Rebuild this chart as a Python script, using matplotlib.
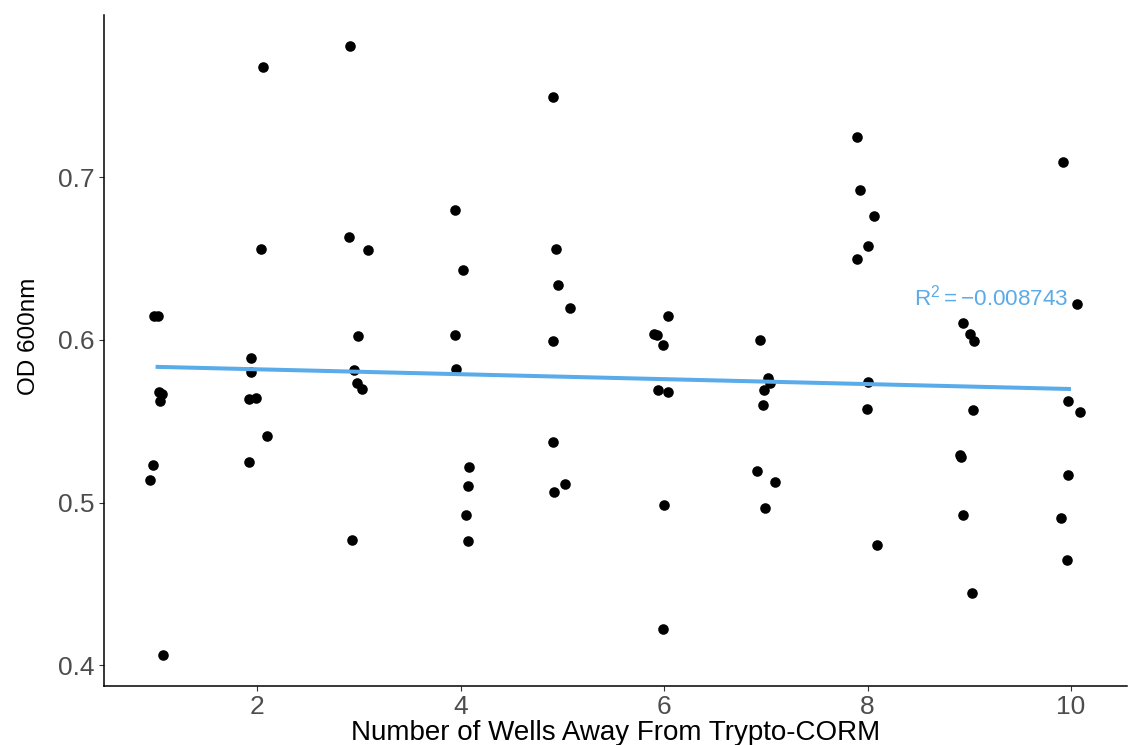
import numpy as np
import matplotlib
matplotlib.use("Agg")
import matplotlib.pyplot as plt

plt.rcParams['font.family'] = ['Liberation Sans', 'DejaVu Sans']
plt.rcParams['mathtext.fontset'] = 'custom'
plt.rcParams['mathtext.rm'] = 'Liberation Sans'
plt.rcParams['mathtext.it'] = 'Liberation Sans'
plt.rcParams['mathtext.bf'] = 'Liberation Sans:bold'

# Jittered well distance (as plotted) and optical density readings
well_pos = [
    0.98, 1.02, 1.03, 1.06, 1.04, 0.97, 0.95, 1.075,
    2.056, 2.036, 1.94, 1.94, 1.92, 1.99, 2.10, 1.92,
    2.915, 2.905, 3.09, 2.987, 2.95, 2.98, 3.03, 2.93,
    3.94, 4.02, 3.94, 3.95, 4.08, 4.07, 4.05, 4.07,
    4.912, 4.94, 4.96, 5.07, 4.905, 4.91, 5.03, 4.92,
    6.04, 5.90, 5.93, 5.99, 5.94, 6.04, 6.00, 5.99,
    6.94, 7.02, 7.04, 6.98, 6.97, 6.91, 7.09, 6.99,
    7.90, 7.93, 8.06, 8.00, 7.90, 8.00, 7.99, 8.09,
    8.94, 9.01, 9.05, 9.04, 8.91, 8.92, 8.94, 9.03,
    9.92, 10.06, 9.97, 10.09, 9.97, 9.90, 9.96,
]
od600 = [
    0.615, 0.615, 0.568, 0.567, 0.5625, 0.523, 0.514, 0.406,
    0.768, 0.656, 0.589, 0.5805, 0.5635, 0.564, 0.541, 0.525,
    0.781, 0.6636, 0.6554, 0.6026, 0.5815, 0.5733, 0.570, 0.4771,
    0.6798, 0.6433, 0.6033, 0.5822, 0.5218, 0.5103, 0.4923, 0.4765,
    0.7495, 0.656, 0.634, 0.6199, 0.5992, 0.5374, 0.5114, 0.5067,
    0.6148, 0.6039, 0.6033, 0.5967, 0.5694, 0.5682, 0.4987, 0.422,
    0.5998, 0.5764, 0.5733, 0.569, 0.5602, 0.5196, 0.5124, 0.4968,
    0.7247, 0.6925, 0.6763, 0.6577, 0.6497, 0.5743, 0.5575, 0.4737,
    0.6107, 0.6039, 0.5992, 0.5567, 0.5292, 0.5282, 0.4921, 0.4445,
    0.7094, 0.622, 0.5625, 0.5555, 0.5171, 0.4903, 0.4648,
]
r2_label = r"$\mathregular{R^2 = -0.008743}$"

x_ticks = [2, 4, 6, 8, 10]
y_ticks = [0.4, 0.5, 0.6, 0.7]

line_color = "#5AABEA"
tick_gray = "#4D4D4D"

xs = np.array(well_pos)
ys = np.array(od600)
wells = np.round(xs)

# Linear fit on the integer well distance
slope, intercept = np.polyfit(wells, ys, 1)
fit_x = np.array([wells.min(), wells.max()])
fit_y = intercept + slope * fit_x

fig = plt.figure(figsize=(11.28, 7.45), dpi=100)
ax = fig.add_axes([0.0922, 0.0796, 0.9068, 0.9004])

ax.scatter(xs, ys, s=58, color="black", linewidths=0, zorder=2)
ax.plot(fit_x, fit_y, color=line_color, lw=2.9, solid_capstyle="butt", zorder=3)
ax.text(9.22, 0.6262, r2_label, color=line_color, fontsize=16.2,
        ha="center", va="center")

ax.set_xlim(0.493, 10.55)
ax.set_ylim(0.3873, 0.800)
ax.set_xticks(x_ticks)
ax.set_xticklabels([str(t) for t in x_ticks])
ax.set_yticks(y_ticks)
ax.set_yticklabels([f"{t:.1f}" for t in y_ticks])

for side in ("top", "right"):
    ax.spines[side].set_visible(False)
for side in ("left", "bottom"):
    ax.spines[side].set_color("black")
    ax.spines[side].set_linewidth(1.1)

ax.tick_params(axis="both", length=3.5, width=0.8, color="#333333",
               labelsize=19, labelcolor=tick_gray, pad=3)

ax.set_xlabel("Number of Wells Away From Trypto-CORM", fontsize=20,
              color="black", labelpad=1)
fig.text(29 / 1128, 1 - 336 / 745, "OD 600nm", rotation=90,
         ha="center", va="center", fontsize=17.5, color="black")

fig.savefig("out.png", dpi=100)
